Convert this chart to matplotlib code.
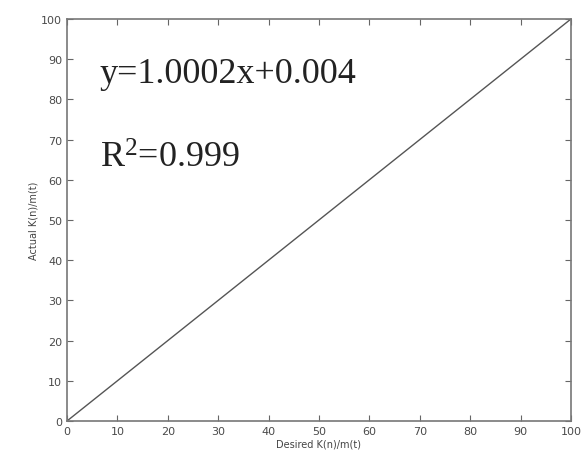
import matplotlib.pyplot as plt

# desired vs actual ratio
desired = [0, 10, 20, 30, 40, 50, 60, 70, 80, 90, 100]
actual = [0, 10, 20, 30, 40, 50, 60, 70, 80, 90, 100]
ticks = [0, 10, 20, 30, 40, 50, 60, 70, 80, 90, 100]

plt.rcParams["mathtext.fontset"] = "custom"
plt.rcParams["mathtext.rm"] = "Liberation Serif"

fig = plt.figure(figsize=(5.86, 4.64), dpi=100)
ax = fig.add_axes([0.1143, 0.0905, 0.86, 0.8664])

ax.plot(desired, actual, color="#555555", linewidth=1.0)

ax.set_xlim(0, 100)
ax.set_ylim(0, 100)
ax.set_xticks(ticks)
ax.set_yticks(ticks)
ax.tick_params(direction="in", top=True, right=True, length=4,
               labelsize=8, labelcolor="#4a4a4a", color="#666666")
for s in ax.spines.values():
    s.set_color("#777777")
    s.set_linewidth(1.2)

ax.set_xlabel("Desired K(n)/m(t)", fontsize=7, color="#444444", labelpad=2)
ax.set_ylabel("Actual K(n)/m(t)", fontsize=7, color="#444444", labelpad=2)

ax.text(6.5, 84.4, "y=1.0002x+0.004", fontsize=26, family="Liberation Serif", color="#222222")
ax.text(6.5, 63.2, r"R$\mathrm{^{2}}$=0.999", fontsize=26, family="Liberation Serif", color="#222222")

fig.savefig("out.png", dpi=100)
